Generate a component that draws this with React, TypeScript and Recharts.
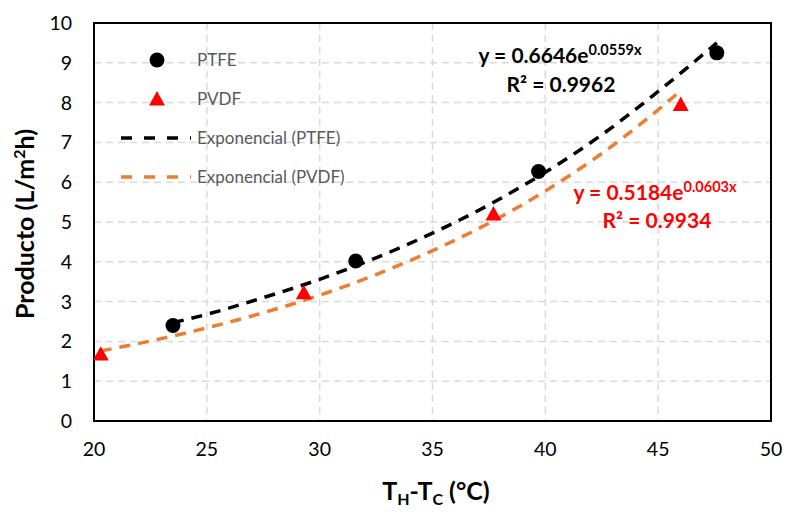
import React from 'react';
import {
  ComposedChart, Line, Scatter, XAxis, YAxis, CartesianGrid, ReferenceArea, Label,
} from 'recharts';

// measured points
const ptfeX = [23.5, 31.6, 39.7, 47.6];
const ptfeY = [2.4, 4.02, 6.27, 9.25];
const pvdfX = [20.3, 29.3, 37.7, 46.0];
const pvdfY = [1.68, 3.22, 5.2, 7.95];

// exponential trend lines
const ptfeTrendX = [23.5, 25, 27.5, 30, 32.5, 35, 37.5, 40, 42.5, 45, 47.6];
const ptfeTrendY = [2.47, 2.68, 3.1, 3.56, 4.1, 4.72, 5.43, 6.25, 7.19, 8.28, 9.5];
const pvdfTrendX = [20.3, 22.5, 25, 27.5, 30, 32.5, 35, 37.5, 40, 42.5, 45, 46];
const pvdfTrendY = [1.76, 2.01, 2.34, 2.72, 3.16, 3.68, 4.28, 4.97, 5.78, 6.72, 7.82, 8.3];

const xTicks = [20, 25, 30, 35, 40, 45, 50];
const yTicks = [0, 1, 2, 3, 4, 5, 6, 7, 8, 9, 10];

const zip = (xs: number[], ys: number[]) => xs.map((x, i) => ({ x, y: ys[i] }));

const FONT = 'Lato, "Open Sans", sans-serif';
const ORANGE = '#ED7D31';

const Triangle = (props: any) => {
  const { cx, cy } = props;
  const s = 8;
  return <polygon points={`${cx},${cy - s} ${cx - s},${cy + s * 0.8} ${cx + s},${cy + s * 0.8}`} fill="#FF0000" />;
};

const Dot = (props: any) => <circle cx={props.cx} cy={props.cy} r={7.5} fill="#000" />;

const App: React.FC = () => {
  return (
    <div style={{ position: 'absolute', left: 0, top: 0, width: 786, height: 512, background: '#fff', fontFamily: FONT }}>
      <ComposedChart width={786} height={512} margin={{ top: 23, right: 15, bottom: 10, left: 30 }}>
        <CartesianGrid stroke="#d9d9d9" strokeDasharray="7 5" strokeWidth={1.5} />
        <XAxis
          type="number"
          dataKey="x"
          domain={[20, 50]}
          ticks={xTicks}
          allowDataOverflow
          axisLine={false}
          tickLine={false}
          tickMargin={15}
          height={81}
          tick={{ fill: '#000', fontSize: 19.5, fontFamily: FONT }}
        >
          <Label
            content={() => (
              <text x={436} y={500} textAnchor="middle" fontFamily={FONT} fontWeight="bold" fontSize={25} fill="#000">
                T<tspan fontSize={16} dy={5}>H</tspan>
                <tspan dy={-5}>-T</tspan>
                <tspan fontSize={16} dy={5}>C</tspan>
                <tspan dy={-5}> (°C)</tspan>
              </text>
            )}
          />
        </XAxis>
        <YAxis
          type="number"
          dataKey="y"
          domain={[0, 10]}
          ticks={yTicks}
          allowDataOverflow
          axisLine={false}
          tickLine={false}
          tickMargin={16}
          width={64}
          tick={{ fill: '#000', fontSize: 19.5, fontFamily: FONT }}
        >
          <Label
            content={() => (
              <text
                x={0}
                y={0}
                transform="translate(34,224) rotate(-90)"
                textAnchor="middle"
                fontFamily={FONT}
                fontWeight="bold"
                fontSize={25}
                fill="#000"
              >
                Producto (L/m<tspan fontSize={16} dy={-9}>2</tspan>
                <tspan dy={9}>h)</tspan>
              </text>
            )}
          />
        </YAxis>
        <ReferenceArea x1={20} x2={50} y1={0} y2={10} fill="none" stroke="#000" strokeWidth={2} ifOverflow="visible" />
        <Line
          data={zip(ptfeTrendX, ptfeTrendY)}
          dataKey="y"
          type="monotone"
          stroke="#000"
          strokeWidth={3.5}
          strokeDasharray="11 8"
          dot={false}
          activeDot={false}
          isAnimationActive={false}
        />
        <Line
          data={zip(pvdfTrendX, pvdfTrendY)}
          dataKey="y"
          type="monotone"
          stroke={ORANGE}
          strokeWidth={3.5}
          strokeDasharray="11 8"
          dot={false}
          activeDot={false}
          isAnimationActive={false}
        />
        <Scatter data={zip(ptfeX, ptfeY)} dataKey="y" shape={<Dot />} isAnimationActive={false} />
        <Scatter data={zip(pvdfX, pvdfY)} dataKey="y" shape={<Triangle />} isAnimationActive={false} />
      </ComposedChart>

      {/* legend and fit annotations */}
      <svg style={{ position: 'absolute', left: 0, top: 0 }} width={786} height={512} pointerEvents="none">
        <circle cx={157} cy={60} r={7.5} fill="#000" />
        <polygon points="157,91 149,105.4 165,105.4" fill="#FF0000" />
        <line x1={121} x2={191} y1={138} y2={138} stroke="#000" strokeWidth={3.5} strokeDasharray="11 12" />
        <line x1={121} x2={191} y1={177} y2={177} stroke={ORANGE} strokeWidth={3.5} strokeDasharray="11 12" />
        <g fontFamily={FONT} fontSize={17} fill="#595959">
          <text x={197} y={66}>PTFE</text>
          <text x={197} y={105}>PVDF</text>
          <text x={197} y={144}>Exponencial (PTFE)</text>
          <text x={197} y={183}>Exponencial (PVDF)</text>
        </g>
        <g fontFamily={FONT} fontWeight="bold" fontSize={21} textAnchor="middle">
          <text x={560} y={63} fill="#000">
            y = 0.6646e<tspan fontSize={14.5} dy={-8}>0.0559x</tspan>
          </text>
          <text x={561} y={92} fill="#000">
            R² = 0.9962
          </text>
          <text x={655} y={200} fill="#FF0000">
            y = 0.5184e<tspan fontSize={14.5} dy={-8}>0.0603x</tspan>
          </text>
          <text x={657} y={228} fill="#FF0000">
            R² = 0.9934
          </text>
        </g>
      </svg>
    </div>
  );
};

export default App;
